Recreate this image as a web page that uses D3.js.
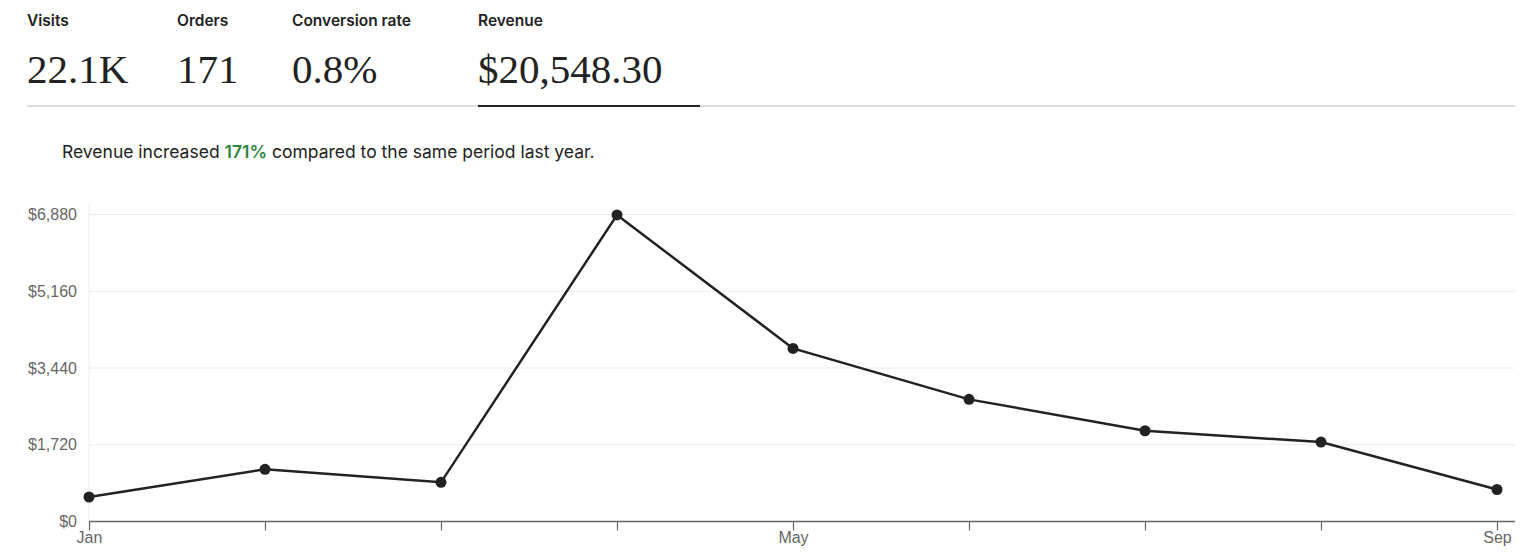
<!DOCTYPE html>
<html>
<head>
<meta charset="utf-8">
<script src="https://cdn.jsdelivr.net/npm/d3@7"></script>
<style>
  body { margin: 0; background: #fff; }
</style>
</head>
<body>
<div id="chart"></div>
<script>
// header stats
var statLabels = ["Visits", "Orders", "Conversion rate", "Revenue"];
var statValues = ["22.1K", "171", "0.8%", "$20,548.30"];
var statX = [27, 177, 292, 478];

// revenue per month
var months = ["Jan", "Feb", "Mar", "Apr", "May", "Jun", "Jul", "Aug", "Sep"];
var revenue = [549, 1169, 878, 6870, 3879, 2737, 2034, 1780, 717];
var yTicks = [0, 1720, 3440, 5160, 6880];
var labelledMonths = ["Jan", "May", "Sep"];

var svg = d3.select("#chart").append("svg").attr("width", 1527).attr("height", 560);

// header
svg.selectAll(".statLabel").data(statLabels).enter().append("text")
  .attr("x", function(d, i) { return statX[i]; }).attr("y", 26)
  .style("font-family", "Inter, 'Open Sans', sans-serif").style("font-size", "15.5px")
  .style("font-weight", 600).style("fill", "#222").text(function(d) { return d; });
svg.selectAll(".statValue").data(statValues).enter().append("text")
  .attr("x", function(d, i) { return statX[i]; }).attr("y", 83)
  .style("font-family", "'Liberation Serif', serif").style("font-size", "41px")
  .style("fill", "#222").text(function(d) { return d; });
svg.append("rect").attr("x", 27).attr("y", 105).attr("width", 1488).attr("height", 2).attr("fill", "#ddd");
svg.append("rect").attr("x", 478).attr("y", 105).attr("width", 222).attr("height", 2).attr("fill", "#222");

// message
var msg = svg.append("text").attr("x", 62).attr("y", 158)
  .style("font-family", "Inter, 'Open Sans', sans-serif").style("font-size", "17.5px").style("fill", "#222");
msg.append("tspan").text("Revenue increased ");
msg.append("tspan").style("fill", "#2e8540").style("font-weight", 600).text("171%");
msg.append("tspan").text(" compared to the same period last year.");

// chart
var x = d3.scalePoint().domain(months).range([89, 1497]);
var y = d3.scaleLinear().domain([0, 6880]).range([521.5, 214.5]);

svg.selectAll(".grid").data(yTicks).enter().append("line")
  .attr("x1", 89).attr("x2", 1515).attr("y1", function(d) { return y(d); }).attr("y2", function(d) { return y(d); })
  .attr("stroke", "#ececec").attr("stroke-width", 1);
svg.append("line").attr("x1", 89).attr("x2", 89).attr("y1", 205).attr("y2", 521.5).attr("stroke", "#ececec");

var yAxis = svg.append("g").attr("transform", "translate(89,0)")
  .call(d3.axisLeft(y).tickValues(yTicks).tickSize(0).tickPadding(12).tickFormat(function(d) { return "$" + d3.format(",")(d); }));
yAxis.select(".domain").remove();
yAxis.selectAll("text").style("font-family", "'Liberation Sans', Arial, sans-serif").style("font-size", "16px").style("fill", "#666");

var xAxis = svg.append("g").attr("transform", "translate(0,521.5)")
  .call(d3.axisBottom(x).tickSize(9).tickPadding(1).tickFormat(function(d) { return labelledMonths.indexOf(d) >= 0 ? d : ""; }));
xAxis.select(".domain").attr("d", "M89,0H1515").attr("stroke", "#666").attr("stroke-width", 1.5);
xAxis.selectAll(".tick line").attr("stroke", "#666").attr("stroke-width", 1.2);
xAxis.selectAll("text").style("font-family", "'Liberation Sans', Arial, sans-serif").style("font-size", "16px").style("fill", "#666");

var line = d3.line().x(function(d, i) { return x(months[i]); }).y(function(d) { return y(d); });
svg.append("path").datum(revenue).attr("d", line).attr("fill", "none").attr("stroke", "#222").attr("stroke-width", 2.5);
svg.selectAll(".dot").data(revenue).enter().append("circle")
  .attr("cx", function(d, i) { return x(months[i]); }).attr("cy", function(d) { return y(d); })
  .attr("r", 5.5).attr("fill", "#222");
</script>
</body>
</html>
